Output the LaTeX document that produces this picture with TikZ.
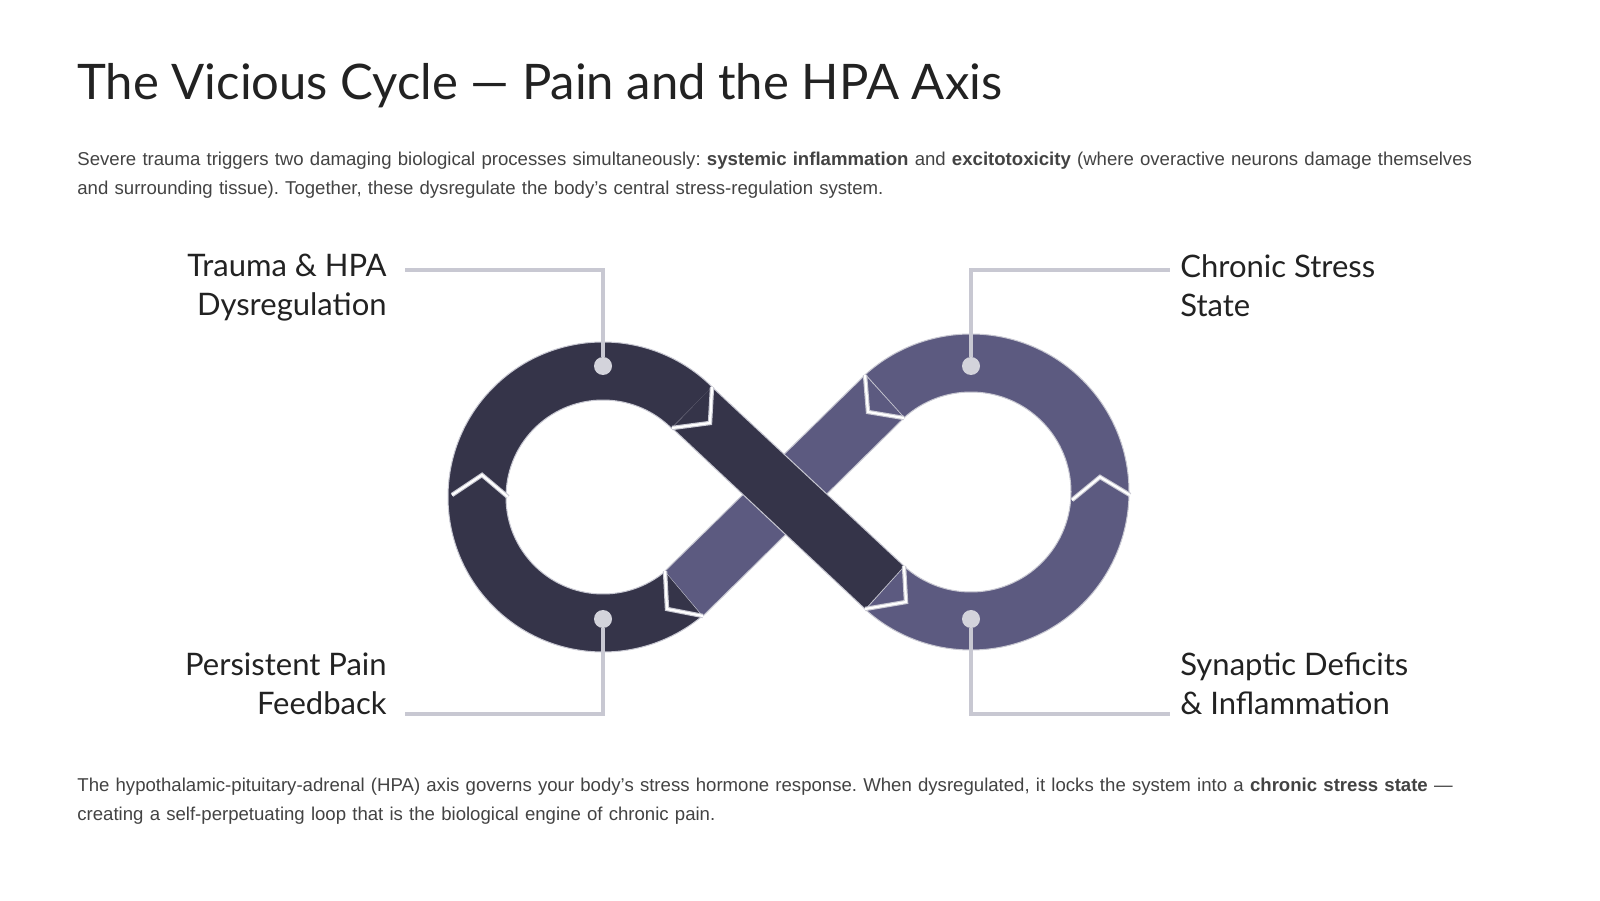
\documentclass[tikz,border=0pt]{standalone}
\usetikzlibrary{calc}
\usepackage{fontspec}
\setmainfont{Liberation Sans}
\newfontfamily\headf{Lato}
\definecolor{darkc}{HTML}{353449}
\definecolor{lightc}{HTML}{5C5A80}
\definecolor{linec}{HTML}{C8C8D2}
\definecolor{txt}{HTML}{222222}
\begin{document}
\frenchspacing
\begin{tikzpicture}[x=0.5pt,y=0.5pt,
  lbl/.style={font=\headf\fontsize{15.5}{19.5}\selectfont,text=txt,inner sep=0pt},
  para/.style={font=\fontsize{9.3}{14.5}\selectfont,text=txt!85,inner sep=0pt,text width=705pt,align=left,anchor=north west},
  leader/.style={draw=linec,line width=1.6pt},
  dot/.style={circle,fill=linec!80!white,inner sep=0pt,minimum size=9pt},
  edge/.style={draw=linec,line width=0.5pt},
  chev/.style={draw=linec,line width=2.2pt,line join=miter},
  chevw/.style={draw=white,line width=1.1pt,line join=miter}]
\useasboundingbox (0,0) rectangle (1600,900);
\fill[white] (0,0) rectangle (1600,900);
\node[font=\headf\fontsize{24.5}{30}\selectfont,text=txt,anchor=base west,inner sep=0pt] (title) at (77,800) {The Vicious Cycle — Pain and the HPA Axis};
\node[para] (p1) at (77,748) {Severe trauma triggers two damaging biological processes simultaneously: \textbf{systemic inflammation} and \textbf{excitotoxicity} (where overactive neurons damage themselves and surrounding tissue). Together, these dysregulate the body's central stress-regulation system.};
\node[para] (p2) at (77,122) {The hypothalamic-pituitary-adrenal (HPA) axis governs your body's stress hormone response. When dysregulated, it locks the system into a \textbf{chronic stress state} — creating a self-perpetuating loop that is the biological engine of chronic pain.};
\coordinate (L) at (603,403);
\coordinate (R) at (971,408);
% rings
\fill[darkc,draw=linec,line width=0.5pt] ($(L)+(45:77.5pt)$) arc[start angle=45,end angle=310,radius=77.5pt] -- ($(L)+(310:48.5pt)$) arc[start angle=310,end angle=45,radius=48.5pt] -- cycle;
\fill[lightc,draw=linec,line width=0.5pt] ($(R)+(132:79pt)$) arc[start angle=132,end angle=-132,radius=79pt] -- ($(R)+(-132:50pt)$) arc[start angle=-132,end angle=132,radius=50pt] -- cycle;
% bands
\fill[lightc] (703,284) -- (904,482) -- (865,525) -- (665,329) -- cycle;
\draw[edge] (703,284) -- (904,482) (865,525) -- (665,329);
\fill[darkc] (712,513) -- (904,334) -- (865,291) -- (672,472) -- cycle;
\draw[edge] (712,513) -- (904,334) (865,291) -- (672,472);
% chevrons
\foreach \p in {{(712,513) -- (710,477) -- (672,472)},{(865,525) -- (868,488) -- (904,482)},{(665,329) -- (667,291) -- (703,284)},{(904,334) -- (906,298) -- (865,291)},{(452,405) -- (482,425) -- (508,403)},{(1072,400) -- (1100,423) -- (1130,405)}}{
  \draw[chev] \p; \draw[chevw] \p;}
% leaders and dots
\coordinate (a1) at (603,630); \coordinate (a2) at (405,630);
\coordinate (b1) at (971,630); \coordinate (b2) at (1170,630);
\coordinate (c1) at (603,186); \coordinate (c2) at (405,186);
\coordinate (d1) at (971,186); \coordinate (d2) at (1170,186);
\node[dot] (da) at (603,534) {};
\node[dot] (db) at (971,534) {};
\node[dot] (dc) at (603,281) {};
\node[dot] (dd) at (971,281) {};
\draw[leader] (da) -- (a1) -- (a2);
\draw[leader] (db) -- (b1) -- (b2);
\draw[leader] (dc) -- (c1) -- (c2);
\draw[leader] (dd) -- (d1) -- (d2);
\node[lbl,align=right,anchor=north east] (la) at (387,646) {Trauma \& HPA\\Dysregulation};
\node[lbl,align=left,anchor=north west] (lb) at (1180,646) {Chronic Stress\\State};
\node[lbl,align=right,anchor=north east] (lc) at (387,248) {Persistent Pain\\Feedback};
\node[lbl,align=left,anchor=north west] (ld) at (1180,248) {Synaptic Deficits\\\& Inflammation};
\end{tikzpicture}
\end{document}
